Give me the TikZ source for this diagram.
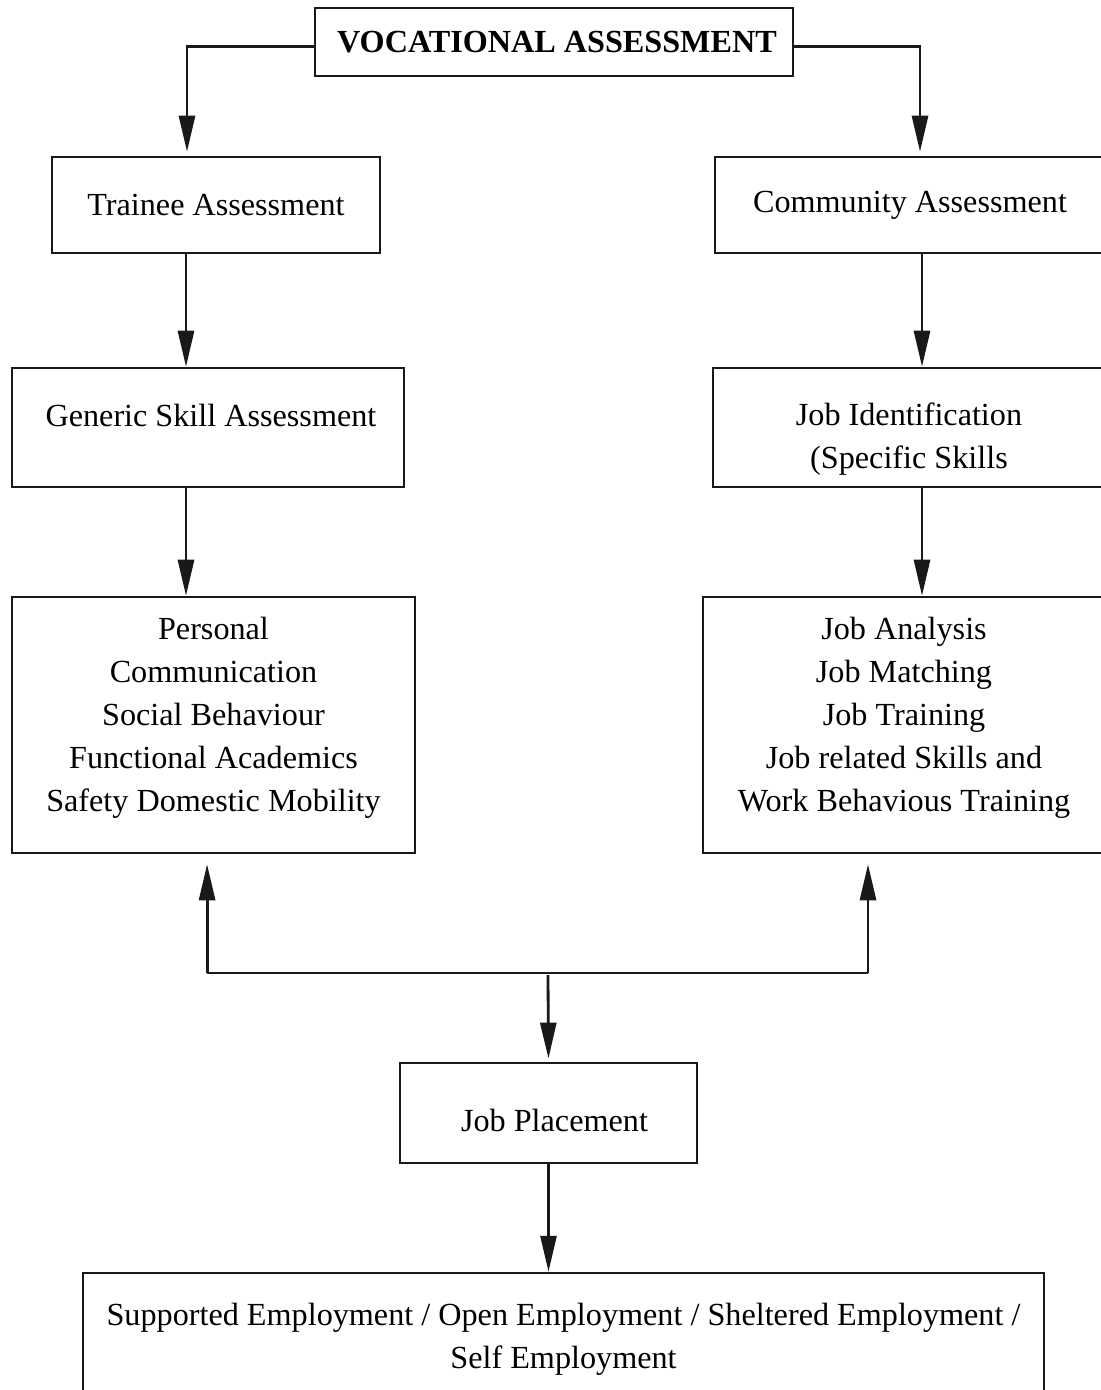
\documentclass[tikz,border=0pt]{standalone}
\usepackage{fontspec}
\setmainfont{Liberation Serif}
\usetikzlibrary{arrows.meta, positioning, calc}

\begin{document}
\begin{tikzpicture}[
    % Node styles
    box/.style={
        rectangle, draw=black!90, line width=1.8pt,
        inner sep=0pt, align=center,
        font=\fontsize{22.9}{30.6}\selectfont,
    },
    title/.style={
        box, font=\fontsize{22.9}{30.6}\selectfont\bfseries,
    },
    link/.style={
        draw=black!90, line width=2pt,
        -{Triangle[length=0.9cm, width=0.4cm]},
    },
    plain/.style={
        draw=black!90, line width=2pt,
    },
]
\useasboundingbox (0,0) rectangle (27.5,-34.75);

% === Top ===
\node[title, minimum width=11.95cm, minimum height=1.7cm] (voc) at (13.85,-1.05) {\hspace*{0.15cm}VOCATIONAL ASSESSMENT};

% === Level 2 ===
\node[box, minimum width=8.2cm, minimum height=2.4cm]  (trainee)   at (5.4,-5.125)   {Trainee Assessment};
\node[box, minimum width=9.75cm, minimum height=2.4cm] (community) at (22.75,-5.125) {Community Assessment};

% === Level 3 ===
\node[box, minimum width=9.8cm, minimum height=2.975cm, text depth=0.6cm] (generic) at (5.2,-10.6875) {\hspace*{0.15cm}Generic Skill Assessment};
\node[box, minimum width=9.8cm, minimum height=2.975cm, text height=2.2cm] (jobid) at (22.725,-10.6875) {Job Identification\\(Specific Skills};

% === Level 4 ===
\node[box, minimum width=10.075cm, minimum height=6.4cm, text depth=0.55cm] (personal) at (5.3375,-18.125)
    {Personal\\Communication\\Social Behaviour\\Functional Academics\\Safety Domestic Mobility};
\node[box, minimum width=10.05cm, minimum height=6.4cm, text depth=0.55cm] (jobana) at (22.6,-18.125)
    {Job Analysis\\Job Matching\\Job Training\\Job related Skills and\\Work Behavious Training};

% === Bottom ===
\coordinate (junc) at (13.7,-24.325);
\node[box, minimum width=7.425cm, minimum height=2.5cm, text height=0.95cm] (placement) at (13.7125,-27.825) {\hspace*{0.3cm}Job Placement};
\node[box, minimum width=24.025cm, minimum height=3.3cm] (employ) at (14.0875,-33.475)
    {Supported Employment / Open Employment / Sheltered Employment /\\Self Employment};

% === Edges: top to level 2 ===
\draw[link, shorten >=0.1cm] ([yshift=-0.12cm]voc.west) -| ([xshift=-0.725cm]trainee.north);
\draw[link, shorten >=0.1cm] ([yshift=-0.12cm]voc.east) -| ([xshift=0.25cm]community.north);

% === Edges: down the columns ===
\draw[link] ([xshift=-0.75cm]trainee.south) -- ([xshift=-0.75cm]trainee.south |- generic.north);
\draw[link] ([xshift=0.3cm]community.south) -- ([xshift=0.3cm]community.south |- jobid.north);
\draw[link] ([xshift=-0.55cm]generic.south) -- ([xshift=-0.55cm]generic.south |- personal.north);
\draw[link] ([xshift=0.325cm]jobid.south) -- ([xshift=0.325cm]jobid.south |- jobana.north);

% === Edges: feedback and placement ===
\draw[plain] ([xshift=-0.16cm]personal.south |- junc) -- ([xshift=-0.9cm]jobana.south |- junc);
\draw[link, shorten >=0.25cm] ([xshift=-0.16cm]personal.south |- junc) -- ([xshift=-0.16cm]personal.south);
\draw[link, shorten >=0.25cm] ([xshift=-0.9cm]jobana.south |- junc) -- ([xshift=-0.9cm]jobana.south);
\draw[link, shorten >=0.08cm] ([yshift=-0.05cm]junc) -- (placement.north);
\draw[link] (placement.south) -- (placement.south |- employ.north);

\end{tikzpicture}
\end{document}
